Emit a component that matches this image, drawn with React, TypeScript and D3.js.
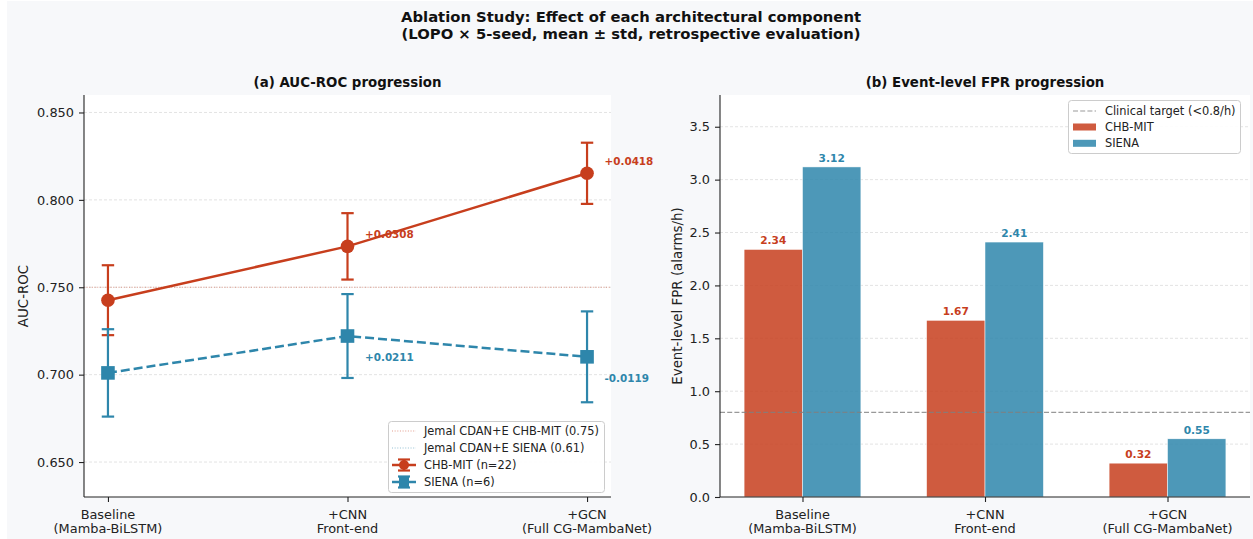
import React, { useRef, useEffect } from "react";
import * as d3 from "d3";

// stages of the ablation
const stages = ["Baseline\n(Mamba-BiLSTM)", "+CNN\nFront-end", "+GCN\n(Full CG-MambaNet)"];
// AUC-ROC mean / std
const aucChb = [0.7426, 0.7734, 0.8152];
const aucChbStd = [0.02, 0.019, 0.0175];
const aucSiena = [0.701, 0.7221, 0.7102];
const aucSienaStd = [0.025, 0.024, 0.026];
// reference lines
const jemalChb = 0.75;
const jemalSiena = 0.61;
const aucTicks = [0.65, 0.7, 0.75, 0.8, 0.85];
// event-level FPR
const fprChb = [2.34, 1.67, 0.32];
const fprSiena = [3.12, 2.41, 0.55];
const fprTicks = [0, 0.5, 1, 1.5, 2, 2.5, 3, 3.5];
const clinicalTarget = 0.8;

const RED = "#C73E1D";
const BLUE = "#2E86AB";
const FONT = "DejaVu Sans";
const TICK = 12.9;
const LABEL = 13.4;

export default function App() {
  const svgRef = useRef<SVGSVGElement>(null);

  useEffect(() => {
    const svg = d3.select(svgRef.current);
    svg.selectAll("*").remove();
    const W = 1253, H = 539;

    svg.append("rect").attr("width", W).attr("height", H).attr("fill", "#fff");
    svg.append("rect").attr("x", 7).attr("y", 1).attr("width", W - 7).attr("height", H - 1).attr("fill", "#f7f8fa");

    // figure title
    const title = svg.append("text").attr("text-anchor", "middle").attr("font-family", FONT)
      .attr("font-weight", "bold").attr("font-size", 14.8).attr("fill", "#111");
    title.append("tspan").attr("x", 631).attr("y", 22).text("Ablation Study: Effect of each architectural component");
    title.append("tspan").attr("x", 631).attr("y", 38.6).text("(LOPO × 5-seed, mean ± std, retrospective evaluation)");

    const top = 95, bottom = 497;

    // ---------- (a) AUC-ROC ----------
    const L = { l: 84, r: 611 };
    const x = d3.scaleLinear().domain([-0.1, 2.1]).range([L.l, L.r]);
    const y = d3.scaleLinear().domain([0.63, 0.86]).range([bottom, top]);
    const ga = svg.append("g");
    ga.append("rect").attr("x", L.l).attr("y", top).attr("width", L.r - L.l).attr("height", bottom - top).attr("fill", "#fff");
    ga.selectAll("line.grid").data(aucTicks).join("line")
      .attr("x1", L.l).attr("x2", L.r).attr("y1", (d) => y(d)).attr("y2", (d) => y(d))
      .attr("stroke", "#b0b0b0").attr("stroke-opacity", 0.45).attr("stroke-width", 0.8).attr("stroke-dasharray", "3,2");
    [jemalChb, jemalSiena].forEach((v, i) => {
      if (v < 0.63) return;
      ga.append("line").attr("x1", L.l).attr("x2", L.r).attr("y1", y(v)).attr("y2", y(v))
        .attr("stroke", i === 0 ? RED : BLUE).attr("stroke-opacity", 0.5).attr("stroke-width", 1)
        .attr("stroke-dasharray", "1,1.65");
    });

    const series = [
      { vals: aucChb, std: aucChbStd, color: RED, dash: null, marker: "circle", dy: -12 },
      { vals: aucSiena, std: aucSienaStd, color: BLUE, dash: "9,4", marker: "square", dy: 21 },
    ];
    series.forEach((s) => {
      const line = d3.line<number>().x((_, i) => x(i)).y((d) => y(d));
      ga.append("path").attr("d", line(s.vals)).attr("fill", "none").attr("stroke", s.color)
        .attr("stroke-width", 2.5).attr("stroke-dasharray", s.dash);
      s.vals.forEach((v, i) => {
        const cx = x(i);
        ga.append("line").attr("x1", cx).attr("x2", cx).attr("y1", y(v - s.std[i])).attr("y2", y(v + s.std[i]))
          .attr("stroke", s.color).attr("stroke-width", 2.2);
        [v - s.std[i], v + s.std[i]].forEach((e) => {
          ga.append("line").attr("x1", cx - 6.2).attr("x2", cx + 6.2).attr("y1", y(e)).attr("y2", y(e))
            .attr("stroke", s.color).attr("stroke-width", 2.2);
        });
        if (s.marker === "circle") {
          ga.append("circle").attr("cx", cx).attr("cy", y(v)).attr("r", 6.8).attr("fill", s.color);
        } else {
          ga.append("rect").attr("x", cx - 6.8).attr("y", y(v) - 6.8).attr("width", 13.6).attr("height", 13.6).attr("fill", s.color);
        }
        if (i > 0) {
          const delta = v - s.vals[i - 1];
          ga.append("text").attr("x", cx + 17.5).attr("y", y(v) + s.dy + 3.8)
            .attr("font-family", FONT).attr("font-weight", "bold").attr("font-size", 10.4).attr("fill", s.color)
            .text((delta >= 0 ? "+" : "") + delta.toFixed(4));
        }
      });
    });

    // axes (a)
    const axL = ga.append("g").attr("transform", `translate(${L.l},0)`)
      .call(d3.axisLeft(y).tickValues(aucTicks).tickFormat(d3.format(".3f")).tickSize(5).tickPadding(5));
    const axB = ga.append("g").attr("transform", `translate(0,${bottom})`)
      .call(d3.axisBottom(x).tickValues([0, 1, 2]).tickFormat(() => "").tickSize(5));
    [axL, axB].forEach((a) => {
      a.select(".domain").attr("stroke", "#222").attr("stroke-width", 1.1);
      a.selectAll(".tick line").attr("stroke", "#222").attr("stroke-width", 1.1);
      a.selectAll("text").attr("font-family", FONT).attr("font-size", TICK).attr("fill", "#222");
    });
    axL.select(".domain").attr("d", `M0,${top}V${bottom}`);
    axB.select(".domain").attr("d", `M${L.l},0H${L.r}`);

    const xLabels = (g: any, sx: any) => {
      stages.forEach((s, i) => {
        const t = g.append("text").attr("text-anchor", "middle").attr("font-family", FONT)
          .attr("font-size", TICK).attr("fill", "#222");
        s.split("\n").forEach((part, j) => {
          t.append("tspan").attr("x", sx(i)).attr("y", 518.8 + j * 14.6).text(part);
        });
      });
    };
    xLabels(ga, x);

    ga.append("text").attr("transform", `translate(27.5,${(top + bottom) / 2}) rotate(-90)`).attr("text-anchor", "middle")
      .attr("font-family", FONT).attr("font-size", LABEL).attr("fill", "#222").text("AUC-ROC");
    ga.append("text").attr("x", (L.l + L.r) / 2).attr("y", 86.8).attr("text-anchor", "middle")
      .attr("font-family", FONT).attr("font-weight", "bold").attr("font-size", 13.35).attr("fill", "#111")
      .text("(a) AUC-ROC progression");

    // legend (a)
    const lg = ga.append("g").attr("font-family", FONT).attr("font-size", 11.4).attr("fill", "#222");
    lg.append("rect").attr("x", 388.5).attr("y", 421.5).attr("width", 216).attr("height", 71).attr("rx", 3)
      .attr("fill", "#fff").attr("fill-opacity", 0.9).attr("stroke", "#ccc");
    const legA = [
      { label: `Jemal CDAN+E CHB-MIT (${jemalChb.toFixed(2)})`, color: RED, type: "ref" },
      { label: `Jemal CDAN+E SIENA (${jemalSiena.toFixed(2)})`, color: BLUE, type: "ref" },
      { label: "CHB-MIT (n=22)", color: RED, type: "circle" },
      { label: "SIENA (n=6)", color: BLUE, type: "square" },
    ];
    legA.forEach((it, i) => {
      const ry = 431 + i * 17;
      if (it.type === "ref") {
        lg.append("line").attr("x1", 392).attr("x2", 416).attr("y1", ry).attr("y2", ry)
          .attr("stroke", it.color).attr("stroke-opacity", 0.5).attr("stroke-dasharray", "1,1.65");
      } else {
        lg.append("line").attr("x1", 392).attr("x2", 416).attr("y1", ry).attr("y2", ry).attr("stroke", it.color).attr("stroke-width", 2.5);
        lg.append("line").attr("x1", 404).attr("x2", 404).attr("y1", ry - 5.5).attr("y2", ry + 5.5).attr("stroke", it.color).attr("stroke-width", 2.2);
        [-5.5, 5.5].forEach((o) => lg.append("line").attr("x1", 398).attr("x2", 410).attr("y1", ry + o).attr("y2", ry + o).attr("stroke", it.color).attr("stroke-width", 2.2));
        if (it.type === "circle") lg.append("circle").attr("cx", 404).attr("cy", ry).attr("r", 5).attr("fill", it.color);
        else lg.append("rect").attr("x", 399).attr("y", ry - 5).attr("width", 10).attr("height", 10).attr("fill", it.color);
      }
      lg.append("text").attr("x", 424).attr("y", ry + 4.1).text(it.label);
    });

    // ---------- (b) Event-level FPR ----------
    const R = { l: 720, r: 1250 };
    const bw = 0.32;
    const xr = d3.scaleLinear().domain([-0.452, 2.452]).range([R.l, R.r]);
    const yr = d3.scaleLinear().domain([0, 3.8]).range([bottom, top]);
    const gb = svg.append("g");
    gb.append("rect").attr("x", R.l).attr("y", top).attr("width", R.r - R.l).attr("height", bottom - top).attr("fill", "#fff");
    gb.selectAll("line.grid").data(fprTicks.slice(1)).join("line")
      .attr("x1", R.l).attr("x2", R.r).attr("y1", (d) => yr(d)).attr("y2", (d) => yr(d))
      .attr("stroke", "#b0b0b0").attr("stroke-opacity", 0.45).attr("stroke-width", 0.8).attr("stroke-dasharray", "3,2");

    const barSeries = [
      { vals: fprChb, color: RED, off: -bw },
      { vals: fprSiena, color: BLUE, off: 0 },
    ];
    barSeries.forEach((s) => {
      s.vals.forEach((v, i) => {
        const x0 = xr(i + s.off);
        const x1 = xr(i + s.off + bw);
        gb.append("rect").attr("x", x0).attr("y", yr(v)).attr("width", x1 - x0).attr("height", yr(0) - yr(v))
          .attr("fill", s.color).attr("fill-opacity", 0.85).attr("stroke", "#fff").attr("stroke-width", 0.5);
        gb.append("text").attr("x", (x0 + x1) / 2).attr("y", yr(v) - 5).attr("text-anchor", "middle")
          .attr("font-family", FONT).attr("font-weight", "bold").attr("font-size", 10.6).attr("fill", s.color)
          .text(v.toFixed(2));
      });
    });
    gb.append("line").attr("x1", R.l).attr("x2", R.r).attr("y1", yr(clinicalTarget)).attr("y2", yr(clinicalTarget))
      .attr("stroke", "#808080").attr("stroke-opacity", 0.8).attr("stroke-width", 1.2).attr("stroke-dasharray", "5,2.2");

    const axRL = gb.append("g").attr("transform", `translate(${R.l},0)`)
      .call(d3.axisLeft(yr).tickValues(fprTicks).tickFormat(d3.format(".1f")).tickSize(5).tickPadding(5));
    const axRB = gb.append("g").attr("transform", `translate(0,${bottom})`)
      .call(d3.axisBottom(xr).tickValues([0, 1, 2]).tickFormat(() => "").tickSize(5));
    [axRL, axRB].forEach((a) => {
      a.select(".domain").attr("stroke", "#222").attr("stroke-width", 1.1);
      a.selectAll(".tick line").attr("stroke", "#222").attr("stroke-width", 1.1);
      a.selectAll("text").attr("font-family", FONT).attr("font-size", TICK).attr("fill", "#222");
    });
    axRL.select(".domain").attr("d", `M0,${top}V${bottom}`);
    axRB.select(".domain").attr("d", `M${R.l},0H${R.r}`);
    xLabels(gb, xr);

    gb.append("text").attr("transform", `translate(681.5,${(top + bottom) / 2}) rotate(-90)`).attr("text-anchor", "middle")
      .attr("font-family", FONT).attr("font-size", LABEL).attr("fill", "#222").text("Event-level FPR (alarms/h)");
    gb.append("text").attr("x", (R.l + R.r) / 2).attr("y", 86.8).attr("text-anchor", "middle")
      .attr("font-family", FONT).attr("font-weight", "bold").attr("font-size", 13.35).attr("fill", "#111")
      .text("(b) Event-level FPR progression");

    // legend (b)
    const lb = gb.append("g").attr("font-family", FONT).attr("font-size", 11.4).attr("fill", "#222");
    lb.append("rect").attr("x", 1068.5).attr("y", 100.5).attr("width", 172).attr("height", 53).attr("rx", 3)
      .attr("fill", "#fff").attr("fill-opacity", 0.9).attr("stroke", "#ccc");
    lb.append("line").attr("x1", 1073).attr("x2", 1096).attr("y1", 111).attr("y2", 111)
      .attr("stroke", "#808080").attr("stroke-opacity", 0.8).attr("stroke-width", 1.2).attr("stroke-dasharray", "5,2.2");
    lb.append("text").attr("x", 1105).attr("y", 115.1).text(`Clinical target (<${clinicalTarget}/h)`);
    [{ label: "CHB-MIT", color: RED }, { label: "SIENA", color: BLUE }].forEach((it, i) => {
      const ry = 127 + i * 16.3;
      lb.append("rect").attr("x", 1073).attr("y", ry - 3.5).attr("width", 23).attr("height", 7)
        .attr("fill", it.color).attr("fill-opacity", 0.85);
      lb.append("text").attr("x", 1105).attr("y", ry + 4.1).text(it.label);
    });
  }, []);

  return (
    <svg ref={svgRef} width={1253} height={539}
      style={{ position: "absolute", left: 0, top: 0, display: "block" }} />
  );
}
